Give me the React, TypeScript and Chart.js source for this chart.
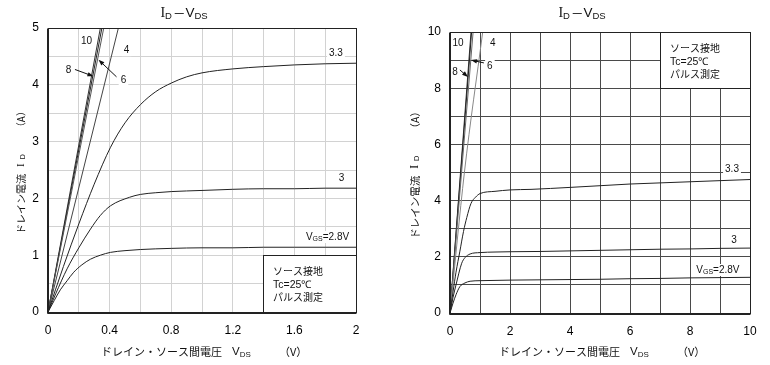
import React, { useEffect, useRef } from "react";
import { Chart, registerables } from "chart.js";
Chart.register(...registerables);

// ---------- Left chart data (VDS 0–2 V, ID 0–5 A) ----------
const L_VGS28_X = [0, 0.04, 0.08, 0.124, 0.167, 0.22, 0.276, 0.34, 0.406, 0.5, 0.6, 0.8, 1.0, 1.2, 1.4, 1.6, 1.8, 2.0];
const L_VGS28_Y = [0, 0.2, 0.39, 0.55, 0.7, 0.83, 0.93, 1.0, 1.05, 1.08, 1.1, 1.12, 1.13, 1.13, 1.14, 1.14, 1.14, 1.14];
const L_VGS3_X = [0, 0.05, 0.124, 0.2, 0.276, 0.34, 0.406, 0.53, 0.6, 0.7, 0.8, 1.0, 1.2, 1.4, 1.6, 1.8, 2.0];
const L_VGS3_Y = [0, 0.32, 0.76, 1.13, 1.46, 1.7, 1.87, 2.02, 2.07, 2.1, 2.12, 2.14, 2.16, 2.17, 2.17, 2.18, 2.18];
const L_VGS33_X = [0, 0.1, 0.2, 0.3, 0.406, 0.5, 0.6, 0.7, 0.8, 0.9, 1.0, 1.2, 1.4, 1.6, 1.8, 2.0];
const L_VGS33_Y = [0, 0.8, 1.55, 2.25, 2.9, 3.33, 3.65, 3.88, 4.03, 4.14, 4.21, 4.28, 4.32, 4.35, 4.37, 4.38];
const L_VGS4_X = [0, 0.457];
const L_VGS4_Y = [0, 5];
const L_VGS6_X = [0, 0.362];
const L_VGS6_Y = [0, 5];
const L_VGS8_X = [0, 0.35];
const L_VGS8_Y = [0, 5];
const L_VGS10_X = [0, 0.34];
const L_VGS10_Y = [0, 5];

// ---------- Right chart data (VDS 0–10 V, ID 0–10 A) ----------
const R_VGS28_X = [0, 0.1, 0.2, 0.33, 0.5, 0.67, 1, 1.5, 2, 3, 4, 5, 6, 7, 8, 9, 10];
const R_VGS28_Y = [0, 0.35, 0.65, 0.94, 1.07, 1.13, 1.15, 1.16, 1.17, 1.18, 1.19, 1.2, 1.22, 1.23, 1.25, 1.26, 1.27];
const R_VGS3_X = [0, 0.1, 0.2, 0.39, 0.5, 0.67, 1, 1.5, 2, 3, 4, 5, 6, 7, 8, 9, 10];
const R_VGS3_Y = [0, 0.55, 1.0, 1.77, 1.97, 2.1, 2.15, 2.17, 2.18, 2.19, 2.21, 2.23, 2.25, 2.27, 2.28, 2.3, 2.31];
const R_VGS33_X = [0, 0.1, 0.2, 0.33, 0.45, 0.56, 0.7, 0.85, 1, 1.5, 2, 2.7, 4, 5, 6, 7, 8, 9, 10];
const R_VGS33_Y = [0, 0.75, 1.45, 2.2, 2.9, 3.4, 3.9, 4.12, 4.25, 4.33, 4.38, 4.4, 4.47, 4.53, 4.59, 4.63, 4.67, 4.71, 4.75];
const R_VGS4_X = [0, 0.48, 1.09];
const R_VGS4_Y = [0, 5, 10];
const R_VGS6_X = [0, 0.77];
const R_VGS6_Y = [0, 10];
const R_VGS8_X = [0, 0.72];
const R_VGS8_Y = [0, 10];
const R_VGS10_X = [0, 0.7];
const R_VGS10_Y = [0, 10];

// ---------- Text ----------
const TITLE_I = "I";
const TITLE_D = "D";
const TITLE_DASH = "－";
const TITLE_V = "V";
const TITLE_DS = "DS";
const X_TITLE_JP = "ドレイン・ソース間電圧";
const X_TITLE_UNIT = "（V）";
const Y_TITLE_JP = "ドレイン電流";
const Y_TITLE_UNIT = "（A）";
const BOX_LINES = ["ソース接地", "Tc=25℃", "パルス測定"];

const SANS = '"Liberation Sans", Arial, sans-serif';
const SERIF = '"Liberation Serif", "Times New Roman", serif';
const JP = '"Noto Sans CJK JP", "Noto Sans", sans-serif';

const pts = (xs: number[], ys: number[]) => xs.map((x, i) => ({ x, y: ys[i] }));

type Part = { t?: string; f?: string; dy?: number; gap?: number };
function richWidth(ctx: CanvasRenderingContext2D, parts: Part[]) {
  let w = 0;
  for (const p of parts) {
    if (p.gap) { w += p.gap; continue; }
    ctx.font = p.f!;
    w += ctx.measureText(p.t!).width;
  }
  return w;
}
function drawRich(ctx: CanvasRenderingContext2D, parts: Part[], x: number, y: number) {
  let cx = x;
  ctx.textAlign = "left";
  ctx.textBaseline = "middle";
  for (const p of parts) {
    if (p.gap) { cx += p.gap; continue; }
    ctx.font = p.f!;
    ctx.fillText(p.t!, cx, y + (p.dy || 0));
    cx += ctx.measureText(p.t!).width;
  }
}

type Label = { kind: "num" | "vgs"; t: string; x: number; y: number };
type Arrow = { x1: number; y1: number; x2: number; y2: number };
type Cfg = {
  left: number;
  xMax: number; yMax: number; xStep: number; yStep: number;
  xLabelEvery: number; yLabelEvery: number;
  yAxisWidth: number; padTop: number; padRight: number; xAxisHeight: number;
  gridColor: string;
  series: { xs: number[]; ys: number[]; color: string }[];
  labels: Label[];
  arrows: Arrow[];
  box: { x0: number; x1: number; y0: number; y1: number };
  yTitleX: number;
  yTitleSize: number;
};

function align(v: number) { return Math.round(v - 0.5) + 0.5; }

function makePlugin(c: Cfg) {
  return {
    id: "deco",
    afterDraw(chart: any) {
      const ctx: CanvasRenderingContext2D = chart.ctx;
      const a = chart.chartArea;
      const xs = chart.scales.x, ys = chart.scales.y;
      const px = (v: number) => xs.getPixelForValue(v);
      const py = (v: number) => ys.getPixelForValue(v);
      ctx.save();
      ctx.fillStyle = "#000";

      // value labels
      for (const l of c.labels) {
        const X = px(l.x), Y = py(l.y);
        let parts: Part[];
        if (l.kind === "vgs") {
          parts = [
            { t: "V", f: `10px ${SANS}` },
            { t: "GS", f: `7px ${SANS}`, dy: 2 },
            { t: l.t, f: `10px ${SANS}` },
          ];
        } else {
          parts = [{ t: l.t, f: `10px ${SANS}` }];
        }
        const w = richWidth(ctx, parts);
        ctx.fillStyle = "#fff";
        ctx.fillRect(X - w / 2 - 2, Y - 6, w + 4, 12);
        ctx.fillStyle = "#111";
        drawRich(ctx, parts, X - w / 2, Y);
      }

      // arrows
      ctx.strokeStyle = "#111";
      ctx.fillStyle = "#111";
      ctx.lineWidth = 1;
      for (const ar of c.arrows) {
        const x1 = px(ar.x1), y1 = py(ar.y1), x2 = px(ar.x2), y2 = py(ar.y2);
        const ang = Math.atan2(y2 - y1, x2 - x1);
        ctx.beginPath();
        ctx.moveTo(x1, y1);
        ctx.lineTo(x2 - 4 * Math.cos(ang), y2 - 4 * Math.sin(ang));
        ctx.stroke();
        ctx.beginPath();
        ctx.moveTo(x2, y2);
        ctx.lineTo(x2 - 6 * Math.cos(ang) + 2.2 * Math.sin(ang), y2 - 6 * Math.sin(ang) - 2.2 * Math.cos(ang));
        ctx.lineTo(x2 - 6 * Math.cos(ang) - 2.2 * Math.sin(ang), y2 - 6 * Math.sin(ang) + 2.2 * Math.cos(ang));
        ctx.closePath();
        ctx.fill();
      }

      // info box
      const bx1 = align(px(c.box.x0)), bx2 = align(px(c.box.x1));
      const by1 = align(py(c.box.y1)), by2 = align(py(c.box.y0));
      ctx.fillStyle = "#fff";
      ctx.fillRect(bx1, by1, bx2 - bx1, by2 - by1);
      ctx.strokeStyle = "#222";
      ctx.lineWidth = 1;
      ctx.strokeRect(bx1, by1, bx2 - bx1, by2 - by1);
      ctx.fillStyle = "#111";
      ctx.textAlign = "left";
      ctx.textBaseline = "middle";
      const offs = [16, 29.5, 41.5];
      BOX_LINES.forEach((t, i) => {
        ctx.font = i === 1 ? `10.5px ${SANS}` : `10px ${JP}`;
        ctx.fillText(t, bx1 + 9.5, by1 + offs[i]);
      });

      // plot frame
      ctx.strokeStyle = "#222";
      ctx.lineWidth = 1;
      const L = align(a.left), R = align(a.right), T = align(a.top), B = align(a.bottom);
      ctx.strokeRect(L, T, R - L, B - T);
      ctx.beginPath();
      ctx.moveTo(L - 1, T);
      ctx.lineTo(L - 1, B + 1);
      ctx.lineTo(R, B + 1);
      ctx.stroke();

      // chart title
      const cx = (a.left + a.right) / 2;
      const tParts: Part[] = [
        { t: TITLE_I, f: `14px ${SERIF}` },
        { t: TITLE_D, f: `9.5px ${SANS}`, dy: 3 },
        { gap: 1 },
        { t: TITLE_DASH, f: `12.5px ${JP}` },
        { t: TITLE_V, f: `13.5px ${SANS}` },
        { t: TITLE_DS, f: `9.5px ${SANS}`, dy: 3 },
      ];
      ctx.fillStyle = "#111";
      const tw = richWidth(ctx, tParts);
      drawRich(ctx, tParts, cx - 18 - tw / 2, 13);

      // x axis title
      ctx.font = `11px ${JP}`;
      ctx.textAlign = "left";
      ctx.textBaseline = "middle";
      ctx.fillText(X_TITLE_JP, cx - 101, 352);
      drawRich(ctx, [
        { t: "V", f: `11.5px ${SANS}` },
        { t: "DS", f: `8px ${SANS}`, dy: 2.5 },
      ], cx + 30, 352);
      ctx.font = `11px ${JP}`;
      ctx.fillText(X_TITLE_UNIT, cx + 77, 352);

      // y axis title (rotated)
      const cy = (a.top + a.bottom) / 2;
      const s = c.yTitleSize;
      const yParts: Part[] = [
        { t: Y_TITLE_JP, f: `${s}px ${JP}` },
        { gap: 7 },
        { t: "I", f: `${s + 1}px ${SERIF}` },
        { gap: 4 },
        { t: "D", f: `${s - 3}px ${SANS}`, dy: 2 },
        { gap: 22 },
        { t: Y_TITLE_UNIT, f: `${s}px ${JP}` },
      ];
      const yw = richWidth(ctx, yParts);
      ctx.save();
      ctx.translate(c.yTitleX, cy);
      ctx.rotate(-Math.PI / 2);
      drawRich(ctx, yParts, -yw / 2, 0);
      ctx.restore();

      ctx.restore();
    },
  };
}

function Panel({ c }: { c: Cfg }) {
  const ref = useRef<HTMLCanvasElement>(null);
  useEffect(() => {
    const zeroPad = (s: any) => { s.paddingTop = 0; s.paddingBottom = 0; s.paddingLeft = 0; s.paddingRight = 0; };
    const chart = new Chart(ref.current!, {
      type: "scatter",
      data: {
        datasets: c.series.map((s) => ({
          data: pts(s.xs, s.ys),
          showLine: true,
          borderColor: s.color,
          borderWidth: 1,
          pointRadius: 0,
          cubicInterpolationMode: "monotone" as const,
          fill: false,
        })),
      },
      options: {
        animation: false,
        responsive: false,
        devicePixelRatio: 1,
        events: [],
        layout: { padding: { left: 0, top: c.padTop, right: c.padRight, bottom: 0 } },
        plugins: { legend: { display: false }, tooltip: { enabled: false }, title: { display: false } },
        scales: {
          x: {
            type: "linear",
            min: 0,
            max: c.xMax,
            afterFit: (s: any) => { s.height = c.xAxisHeight; zeroPad(s); },
            ticks: {
              stepSize: c.xStep,
              autoSkip: false,
              maxRotation: 0,
              padding: 11,
              color: "#000",
              font: { family: SANS, size: 12 },
              callback: (v: any) => {
                const n = Math.round(Number(v) / c.xStep);
                return n % c.xLabelEvery === 0 ? String(Math.round(Number(v) * 10) / 10) : "";
              },
            },
            grid: { color: c.gridColor, lineWidth: 1, drawTicks: false },
            border: { display: false },
          },
          y: {
            type: "linear",
            min: 0,
            max: c.yMax,
            afterFit: (s: any) => { s.width = c.yAxisWidth; zeroPad(s); },
            ticks: {
              stepSize: c.yStep,
              autoSkip: false,
              padding: 9,
              color: "#000",
              font: { family: SANS, size: 12 },
              callback: (v: any) => {
                const n = Math.round(Number(v) / c.yStep);
                return n % c.yLabelEvery === 0 ? String(Math.round(Number(v))) : "";
              },
            },
            grid: { color: c.gridColor, lineWidth: 1, drawTicks: false },
            border: { display: false },
          },
        },
      },
      plugins: [makePlugin(c)],
    } as any);
    return () => chart.destroy();
  }, []);
  return (
    <canvas
      ref={ref}
      width={385}
      height={365}
      style={{ position: "absolute", left: c.left, top: 0, width: 385, height: 365 }}
    />
  );
}

const LEFT: Cfg = {
  left: 0,
  xMax: 2, yMax: 5, xStep: 0.2, yStep: 0.5, xLabelEvery: 2, yLabelEvery: 2,
  yAxisWidth: 48, padTop: 28, padRight: 29, xAxisHeight: 53,
  gridColor: "#d2d2d2",
  series: [
    { xs: L_VGS28_X, ys: L_VGS28_Y, color: "#222" },
    { xs: L_VGS3_X, ys: L_VGS3_Y, color: "#222" },
    { xs: L_VGS33_X, ys: L_VGS33_Y, color: "#222" },
    { xs: L_VGS4_X, ys: L_VGS4_Y, color: "#444" },
    { xs: L_VGS6_X, ys: L_VGS6_Y, color: "#555" },
    { xs: L_VGS8_X, ys: L_VGS8_Y, color: "#222" },
    { xs: L_VGS10_X, ys: L_VGS10_Y, color: "#333" },
  ],
  labels: [
    { kind: "num", t: "10", x: 0.25, y: 4.77 },
    { kind: "num", t: "8", x: 0.133, y: 4.26 },
    { kind: "num", t: "6", x: 0.49, y: 4.08 },
    { kind: "num", t: "4", x: 0.51, y: 4.61 },
    { kind: "num", t: "3.3", x: 1.87, y: 4.56 },
    { kind: "num", t: "3", x: 1.906, y: 2.36 },
    { kind: "vgs", t: "=2.8V", x: 1.815, y: 1.32 },
  ],
  arrows: [
    { x1: 0.175, y1: 4.27, x2: 0.295, y2: 4.15 },
    { x1: 0.445, y1: 4.14, x2: 0.328, y2: 4.44 },
  ],
  box: { x0: 1.4, x1: 2, y0: 0, y1: 1 },
  yTitleX: 21,
  yTitleSize: 10,
};

const RIGHT: Cfg = {
  left: 385,
  xMax: 10, yMax: 10, xStep: 1, yStep: 1, xLabelEvery: 2, yLabelEvery: 2,
  yAxisWidth: 65, padTop: 32, padRight: 20, xAxisHeight: 52,
  gridColor: "#4a4a4a",
  series: [
    { xs: R_VGS28_X, ys: R_VGS28_Y, color: "#222" },
    { xs: R_VGS3_X, ys: R_VGS3_Y, color: "#222" },
    { xs: R_VGS33_X, ys: R_VGS33_Y, color: "#222" },
    { xs: R_VGS4_X, ys: R_VGS4_Y, color: "#888" },
    { xs: R_VGS6_X, ys: R_VGS6_Y, color: "#666" },
    { xs: R_VGS8_X, ys: R_VGS8_Y, color: "#222" },
    { xs: R_VGS10_X, ys: R_VGS10_Y, color: "#333" },
  ],
  labels: [
    { kind: "num", t: "10", x: 0.27, y: 9.6 },
    { kind: "num", t: "4", x: 1.43, y: 9.6 },
    { kind: "num", t: "8", x: 0.17, y: 8.58 },
    { kind: "num", t: "6", x: 1.33, y: 8.79 },
    { kind: "num", t: "3.3", x: 9.4, y: 5.12 },
    { kind: "num", t: "3", x: 9.47, y: 2.6 },
    { kind: "vgs", t: "=2.8V", x: 8.93, y: 1.53 },
  ],
  arrows: [
    { x1: 0.33, y1: 8.65, x2: 0.6, y2: 8.4 },
    { x1: 1.13, y1: 8.9, x2: 0.7, y2: 9.0 },
  ],
  box: { x0: 7, x1: 10, y0: 8, y1: 10 },
  yTitleX: 30,
  yTitleSize: 10.5,
};

export default function App() {
  return (
    <div style={{ position: "absolute", left: 0, top: 0, width: 770, height: 365, background: "#fff" }}>
      <Panel c={LEFT} />
      <Panel c={RIGHT} />
    </div>
  );
}
